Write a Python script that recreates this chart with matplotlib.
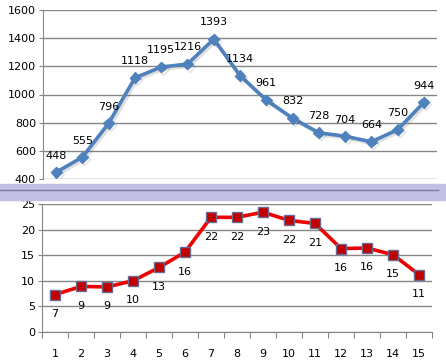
import matplotlib
matplotlib.use('Agg')
import matplotlib.pyplot as plt
import matplotlib.patheffects as pe
from matplotlib.patches import Rectangle
from matplotlib.lines import Line2D

# data
days = list(range(1, 16))
top_vals = [448, 555, 796, 1118, 1195, 1216, 1393, 1134, 961, 832, 728, 704, 664, 750, 944]
low_vals = [7.3, 8.9, 8.8, 10.0, 12.6, 15.6, 22.4, 22.4, 23.4, 21.8, 21.2, 16.3, 16.4, 15.1, 11.2]
top_ticks = [400, 600, 800, 1000, 1200, 1400, 1600]
low_ticks = [0, 5, 10, 15, 20, 25]

W, H = 446, 364
fig = plt.figure(figsize=(W/100, H/100), dpi=100)
grid_c = '#868686'

def px(l, t, r, b):
    return [l/W, 1-b/H, (r-l)/W, (b-t)/H]

# top chart
ax1 = fig.add_axes(px(43, 10, 437, 179))
ax1.plot(days, top_vals, color='#4f81bd', lw=2.6, marker='D', ms=5.5,
         mec='#4f81bd', mfc='#4f81bd', zorder=3,
         path_effects=[pe.SimpleLineShadow(offset=(1.5, -1.5), shadow_color='#555555', alpha=0.18),
                       pe.Normal()])
for x, v in zip(days, top_vals):
    ax1.annotate(str(v), (x, v), xytext=(0, 12), textcoords='offset points',
                 ha='center', va='center', fontsize=8)
ax1.set_xlim(0.5, 15.5)
ax1.set_ylim(400, 1600)
ax1.set_yticks(top_ticks)
ax1.set_xticks([])
ax1.grid(axis='y', color=grid_c, lw=1)
ax1.set_axisbelow(True)
for s in ['top', 'right', 'bottom']:
    ax1.spines[s].set_visible(False)
ax1.spines['left'].set_color(grid_c)
ax1.tick_params(axis='y', length=3, color=grid_c, labelsize=8, pad=2)

# bottom chart
ax2 = fig.add_axes(px(42, 204, 432, 332))
ax2.plot(days, low_vals, color='#ee0000', lw=2.6, marker='s', ms=6.5,
         mfc='#c00000', mec='#6a6a90', mew=1, zorder=3, clip_on=False)
for x, v in zip(days, low_vals):
    ax2.annotate(str(int(round(v))), (x, v), xytext=(0, -14), textcoords='offset points',
                 ha='center', va='center', fontsize=8)
ax2.set_xlim(0.5, 15.5)
ax2.set_ylim(0, 25)
ax2.set_yticks(low_ticks)
ax2.set_xticks([d + 0.5 for d in range(0, 16)])
ax2.set_xticklabels([])
ax2.set_xticks(days, minor=True)
ax2.set_xticklabels([str(d) for d in days], minor=True)
ax2.tick_params(axis='x', which='major', length=4, color=grid_c)
ax2.tick_params(axis='x', which='minor', length=0, labelsize=8, pad=12)
ax2.tick_params(axis='y', length=3, color=grid_c, labelsize=8, pad=2)
ax2.grid(axis='y', color=grid_c, lw=1)
ax2.set_axisbelow(True)
for s in ['top', 'right']:
    ax2.spines[s].set_visible(False)
ax2.spines['left'].set_color(grid_c)
ax2.spines['bottom'].set_color(grid_c)

# lavender separator band
fig.patches.append(Rectangle((0, 1-200/H), 445/W, 16/H, transform=fig.transFigure,
                             color='#c4bfe4', zorder=0))
fig.lines.append(Line2D([0, 438/W], [1-190/H, 1-190/H], transform=fig.transFigure,
                        color='#7f7f9a', lw=1))

fig.savefig('out.png', dpi=100)
